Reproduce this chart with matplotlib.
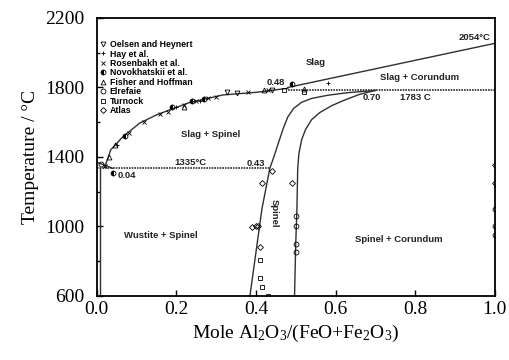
import matplotlib.pyplot as plt
import numpy as np

plt.rcParams['mathtext.fontset'] = 'custom'
plt.rcParams['mathtext.rm'] = 'Liberation Serif'
plt.rcParams['mathtext.it'] = 'Liberation Serif:italic'

# phase boundaries (x = mole fraction, T in C)
liq_spinel_x = [0.02, 0.035, 0.065, 0.108, 0.15, 0.23, 0.317, 0.40, 0.48]
liq_spinel_t = [1340, 1440, 1515, 1595, 1642, 1711, 1757, 1772, 1795]
liq_cor_x = [0.48, 1.0]
liq_cor_t = [1800, 2054]
wus_liq_x = [0.0, 0.04]
wus_liq_t = [1370, 1335]
sp_left_x = [0.385, 0.40, 0.415, 0.435, 0.445, 0.455, 0.468, 0.48, 0.495,
             0.515, 0.54, 0.58, 0.63, 0.70]
sp_left_t = [600, 850, 1100, 1335, 1400, 1470, 1560, 1630, 1680,
             1715, 1737, 1755, 1770, 1783]
sp_right_x = [0.497, 0.50, 0.503, 0.505, 0.508, 0.515, 0.525, 0.54, 0.56,
              0.59, 0.62, 0.66, 0.70]
sp_right_t = [600, 900, 1100, 1335, 1420, 1500, 1560, 1615, 1655,
              1695, 1725, 1760, 1783]
iso_low = 1335
iso_high = 1783

# experimental points
oelsen_x = [0.327, 0.352, 0.44]
oelsen_t = [1775, 1768, 1788]
hay_x = [0.58, 0.20, 0.26, 0.05]
hay_t = [1826, 1690, 1725, 1470]
rosen_x = [0.02, 0.08, 0.12, 0.16, 0.18, 0.22, 0.25, 0.28, 0.30, 0.38, 0.43]
rosen_t = [1350, 1540, 1600, 1650, 1660, 1700, 1720, 1740, 1745, 1775, 1785]
novo_x = [0.49, 0.04, 0.19, 0.24, 0.27, 0.07]
novo_t = [1820, 1310, 1690, 1720, 1735, 1520]
fisher_x = [0.03, 0.045, 0.42, 0.22, 0.52]
fisher_t = [1400, 1470, 1785, 1690, 1790]
elref_x = [0.50, 0.50, 0.50, 0.50, 1.0, 1.0, 1.0, 0.01]
elref_t = [1000, 1060, 900, 850, 1100, 1000, 950, 1360]
turnock_x = [0.41, 0.41, 0.415, 0.43, 0.52, 0.47]
turnock_t = [807, 703, 652, 600, 1775, 1785]
atlas_x = [0.44, 0.415, 0.39, 0.40, 0.49, 1.0, 1.0, 0.405, 0.41]
atlas_t = [1320, 1250, 997, 1000, 1250, 1354, 1250, 1000, 880]

fig = plt.figure(figsize=(5.09, 3.6), dpi=100)
ax = fig.add_axes([0.19, 0.178, 0.782, 0.772])

lc = '#303030'
ax.plot(liq_spinel_x, liq_spinel_t, color=lc, lw=1.0)
ax.plot(liq_cor_x, liq_cor_t, color=lc, lw=1.0)
ax.plot(wus_liq_x, wus_liq_t, color=lc, lw=1.0)
ax.plot(sp_left_x, sp_left_t, color=lc, lw=1.0)
ax.plot(sp_right_x, sp_right_t, color=lc, lw=1.0)
ax.plot([0.008, 0.008], [600, iso_low], color=lc, lw=1.0)
ax.plot([0.0, 0.435], [iso_low, iso_low], color=lc, lw=1.2, ls=(0, (1, 0.6)))
ax.plot([0.48, 1.0], [iso_high, iso_high], color=lc, lw=1.2, ls=(0, (1, 0.6)))

ms = 3.5
mk = dict(ls='none', markersize=ms, color='k', mfc='none', mew=0.6)
ax.plot(oelsen_x, oelsen_t, marker='v', label='Oelsen and Heynert', **mk)
ax.plot(hay_x, hay_t, marker='+', label='Hay et al.', **mk)
ax.plot(rosen_x, rosen_t, marker='x', label='Rosenbakh et al.', **mk)
ax.plot(novo_x, novo_t, marker='o', ls='none', markersize=ms, color='k',
        fillstyle='left', mew=0.6, label='Novokhatskii et al.')
ax.plot(fisher_x, fisher_t, marker='^', label='Fisher and Hoffman', **mk)
ax.plot(elref_x, elref_t, marker='o', label='Elrefaie', **mk)
ax.plot(turnock_x, turnock_t, marker='s', label='Turnock', **mk)
ax.plot(atlas_x, atlas_t, marker='D', label='Atlas', **dict(mk, markersize=3))

ax.legend(loc='upper left', bbox_to_anchor=(0.0, 0.93), frameon=False,
          prop={'family': 'Liberation Sans', 'weight': 'bold', 'size': 6.3},
          labelspacing=0.05, handlelength=0.8, handletextpad=0.4,
          borderaxespad=0.2, borderpad=0.1)

tf = dict(family='Liberation Sans', weight='bold', size=6.8, color='#222222')
ax.text(0.55, 1946, 'Slag', ha='center', va='center', **tf)
ax.text(0.81, 1860, 'Slag + Corundum', ha='center', va='center', **tf)
ax.text(0.80, 1740, '1783 C', ha='center', va='center', **tf)
ax.text(0.69, 1745, '0.70', ha='center', va='center', **tf)
ax.text(0.45, 1826, '0.48', ha='center', va='center', **tf)
ax.text(0.285, 1527, 'Slag + Spinel', ha='center', va='center', **tf)
ax.text(0.235, 1370, '1335°C', ha='center', va='center', **tf)
ax.text(0.40, 1365, '0.43', ha='center', va='center', **tf)
ax.text(0.075, 1296, '0.04', ha='center', va='center', **tf)
ax.text(0.16, 950, 'Wustite + Spinel', ha='center', va='center', **tf)
ax.text(0.447, 1077, 'Spinel', ha='center', va='center', rotation=270, **tf)
ax.text(0.76, 922, 'Spinel + Corundum', ha='center', va='center', **tf)
ax.text(0.99, 2085, '2054°C', ha='right', va='center', **tf)

ax.set_xlim(0, 1.0)
ax.set_ylim(600, 2200)
ax.set_xticks(np.arange(0, 1.01, 0.2))
ax.set_yticks([600, 1000, 1400, 1800, 2200])
ax.set_yticks(np.arange(600, 2201, 200), minor=True)
ax.tick_params(direction='in', length=4, width=1.0, labelsize=14)
ax.tick_params(axis='y', pad=9)
ax.tick_params(which='minor', direction='in', length=2.5, width=1.0)
for lab in ax.get_xticklabels() + ax.get_yticklabels():
    lab.set_family('Liberation Serif')
for s in ax.spines.values():
    s.set_linewidth(1.3)

ax.set_xlabel('Mole Al$_2$O$_3$/(FeO+Fe$_2$O$_3$)', family='Liberation Serif',
              fontsize=14, labelpad=4)
ax.set_ylabel('Temperature / °C', family='Liberation Serif',
              fontsize=14, labelpad=4)

fig.savefig('out.png', dpi=100)
